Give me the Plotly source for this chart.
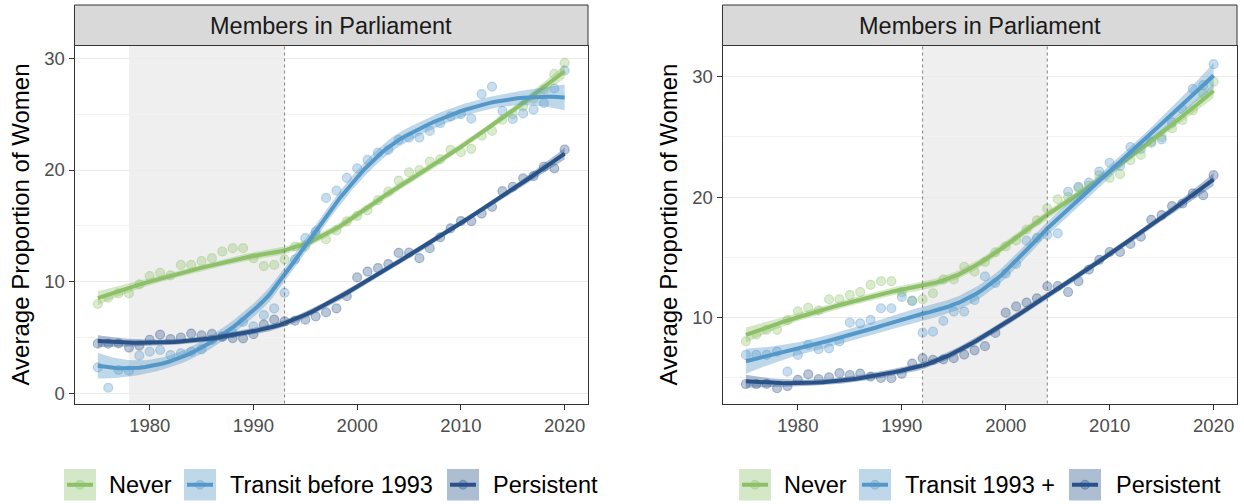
import numpy as np
import plotly.graph_objects as go

# ---------------- data ----------------
years = list(range(1975, 2021))

never = [8.0, 8.56, 8.96, 8.96, 9.76, 10.5, 10.8, 10.57, 11.5, 11.5,
         11.85, 12.1, 12.7, 13.0, 13.0, 12.1, 11.4, 11.5, 12.0, 13.15,
         13.15, 14.2, 13.8, 14.6, 15.4, 15.9, 16.4, 17.3, 18.06, 19.05,
         19.8, 20.0, 20.75, 20.96, 21.8, 21.6, 21.9, 23.07, 23.5, 24.5,
         25.0, 25.7, 26.4, 27.2, 28.6, 29.6]

persistent = [4.45, 4.45, 4.47, 4.1, 4.28, 4.8, 5.25, 4.85, 5.0, 5.35,
              5.2, 5.32, 5.07, 4.95, 4.93, 5.3, 6.15, 6.6, 6.45, 6.5,
              6.6, 6.9, 7.25, 7.6, 8.7, 10.38, 10.9, 11.22, 11.58, 12.58,
              12.6, 12.1, 13.0, 13.97, 14.78, 15.43, 15.43, 16.1, 16.7, 18.1,
              18.5, 19.25, 19.46, 20.3, 20.15, 21.82]

transit_before_1993 = [2.33, 0.5, 2.09, 2.03, 3.37, 3.73, 3.88, 3.43, 3.58, 3.73,
                       3.94, 4.78, 5.07, 5.4, 6.4, 6.0, 7.0, 7.6, 9.0, 12.0,
                       13.9, 14.5, 17.5, 18.15, 19.3, 20.15, 20.9, 21.55, 21.8, 22.7,
                       22.9, 22.9, 23.5, 24.2, 24.8, 25.0, 24.6, 26.8, 27.46, 25.3,
                       24.57, 25.07, 25.4, 26.0, 27.3, 28.9]

transit_1993_plus = [6.87, 6.87, 6.87, 7.15, 5.48, 6.87, 7.7, 7.34, 7.42, 8.0,
                     9.55, 9.5, 9.78, 10.75, 10.75, 11.7, 11.35, 8.72, 8.8, 9.7,
                     10.47, 10.47, 11.44, 13.4, 12.85, 13.63, 14.43, 16.37, 16.6, 16.85,
                     16.98, 20.44, 20.85, 21.2, 22.12, 22.85, 22.6, 24.15, 24.0, 24.6,
                     24.8, 26.2, 27.3, 29.0, 29.3, 31.05]

panel_title = "Members in Parliament"
y_title = "Average Proportion of Women"
x_ticks = [1980, 1990, 2000, 2010, 2020]
left_labels = ["Never", "Transit before 1993", "Persistent"]
right_labels = ["Never", "Transit 1993 +", "Persistent"]
left_shade = (1978, 1993)
left_dashed = [1993]
right_shade = (1992, 2004)
right_dashed = [1992, 2004]

# ---------------- styles ----------------
W, H = 1244, 504
FONT = "Liberation Sans, Arial, Helvetica, sans-serif"
C_NEVER = (141, 193, 104)
C_TRANS = (84, 152, 201)
C_PERS = (40, 82, 136)


def rgba(c, a):
    return f"rgba({c[0]},{c[1]},{c[2]},{a})"


def loess(x, y, xs, span=0.75):
    x = np.asarray(x, float)
    y = np.asarray(y, float)
    n = len(x)
    q = int(np.floor(n * span))

    def hat_row(x0):
        d = np.abs(x - x0)
        h = np.sort(d)[q - 1]
        u = np.clip(d / h, 0, 1)
        w = (1 - u ** 3) ** 3
        X = np.column_stack([np.ones(n), x - x0, (x - x0) ** 2])
        XtW = X.T * w
        A = np.linalg.solve(XtW @ X, XtW)
        return A[0]

    L = np.array([hat_row(xi) for xi in x])
    resid = y - L @ y
    I = np.eye(n)
    M = (I - L).T @ (I - L)
    one_delta = np.trace(M)
    two_delta = np.trace(M @ M)
    sigma = np.sqrt(np.sum(resid ** 2) / one_delta)
    df = one_delta ** 2 / two_delta
    tq = 2.0 + 2.4 / df
    fit, se = [], []
    for x0 in xs:
        l = hat_row(x0)
        fit.append(l @ y)
        se.append(sigma * np.sqrt(np.sum(l ** 2)))
    fit = np.array(fit)
    se = np.array(se)
    return fit, fit - tq * se, fit + tq * se


# ---------------- layout geometry (pixels) ----------------
panel_top, panel_bot = 45.5, 403.5
strip_top = 5
L_x0, L_x1 = 74.5, 588
R_x0, R_x1 = 722.5, 1237


def px(x):
    return x / W


def py(y):
    return 1 - y / H


fig = go.Figure()
xs = np.linspace(1975, 2020, 80)


def add_panel(series, axis_suffix):
    xa = "x" + axis_suffix
    ya = "y" + axis_suffix
    for vals, col in series:
        fig.add_trace(go.Scatter(
            x=years, y=vals, mode="markers", xaxis=xa, yaxis=ya,
            marker=dict(size=9, color=rgba(col, 0.32),
                        line=dict(color=rgba(col, 0.35), width=1.2)),
            showlegend=False, hoverinfo="skip"))
    for vals, col in series:
        fit, lo, hi = loess(years, vals, xs)
        fig.add_trace(go.Scatter(
            x=np.concatenate([xs, xs[::-1]]), y=np.concatenate([hi, lo[::-1]]),
            fill="toself", fillcolor=rgba(col, 0.38), line=dict(width=0),
            mode="lines", xaxis=xa, yaxis=ya, showlegend=False, hoverinfo="skip"))
        fig.add_trace(go.Scatter(
            x=xs, y=fit, mode="lines", line=dict(color=rgba(col, 1), width=4),
            xaxis=xa, yaxis=ya, showlegend=False, hoverinfo="skip"))


add_panel([(never, C_NEVER), (transit_before_1993, C_TRANS), (persistent, C_PERS)], "")
add_panel([(never, C_NEVER), (transit_1993_plus, C_TRANS), (persistent, C_PERS)], "2")

axis_common = dict(
    showline=True, mirror=True, linecolor="#333333", linewidth=1,
    ticks="outside", ticklen=5, tickwidth=1, tickcolor="#333333",
    tickfont=dict(family=FONT, size=18.5, color="#4d4d4d"),
    zeroline=False,
)
title_font = dict(family=FONT, size=24, color="black")

xrange = [1972.75, 2022.25]
fig.update_layout(
    width=W, height=H, margin=dict(l=0, r=0, t=0, b=0),
    paper_bgcolor="white", plot_bgcolor="white",
    font=dict(family=FONT),
    xaxis=dict(domain=[px(L_x0), px(L_x1)], range=xrange, tickvals=x_ticks,
               showgrid=False, anchor="y", **axis_common),
    yaxis=dict(domain=[py(panel_bot), py(panel_top)], range=[-0.91, 31.15],
               tickvals=[0, 10, 20, 30], showgrid=True, gridcolor="#ebebeb", gridwidth=1.2,
               minor=dict(tickvals=[5, 15, 25], showgrid=True, gridcolor="#f2f2f2",
                          gridwidth=0.7, ticks=""),
               anchor="x",
               title=dict(text=y_title, font=title_font, standoff=7),
               **axis_common),
    xaxis2=dict(domain=[px(R_x0), px(R_x1)], range=xrange, tickvals=x_ticks,
                showgrid=False, anchor="y2", **axis_common),
    yaxis2=dict(domain=[py(panel_bot), py(panel_top)], range=[2.83, 32.6],
                tickvals=[10, 20, 30], showgrid=True, gridcolor="#ebebeb", gridwidth=1.2,
                minor=dict(tickvals=[5, 15, 25], showgrid=True, gridcolor="#f2f2f2",
                           gridwidth=0.7, ticks=""),
                anchor="x2",
                title=dict(text=y_title, font=title_font, standoff=7),
                **axis_common),
)

shapes = []
annotations = []


def panel_decor(xref, yref, shade, dashed, x0px, x1px):
    shapes.append(dict(type="rect", xref=xref, yref=yref + " domain",
                       x0=shade[0], x1=shade[1], y0=0, y1=1,
                       fillcolor="#efefef", line=dict(width=0), layer="below"))
    for d in dashed:
        shapes.append(dict(type="line", xref=xref, yref=yref + " domain",
                           x0=d, x1=d, y0=0, y1=1,
                           line=dict(color="#666666", width=0.8, dash="3px,3px"),
                           layer="above"))
    shapes.append(dict(type="rect", xref="paper", yref="paper",
                       x0=px(x0px), x1=px(x1px), y0=py(panel_top), y1=py(strip_top),
                       fillcolor="#d9d9d9", line=dict(color="#333333", width=1)))
    annotations.append(dict(xref="paper", yref="paper",
                            x=px((x0px + x1px) / 2), y=py((panel_top + strip_top) / 2 + 0.5),
                            text=panel_title, showarrow=False,
                            font=dict(family=FONT, size=23.5, color="#1a1a1a"),
                            xanchor="center", yanchor="middle"))


panel_decor("x", "y", left_shade, left_dashed, L_x0, L_x1)
panel_decor("x2", "y2", right_shade, right_dashed, R_x0, R_x1)


def legend(labels, key_x, text_x):
    cols = [C_NEVER, C_TRANS, C_PERS]
    ky0, ky1 = 469, 500.5
    kc = (ky0 + ky1) / 2
    for lab, col, kx, tx in zip(labels, cols, key_x, text_x):
        shapes.append(dict(type="rect", xref="paper", yref="paper",
                           x0=px(kx), x1=px(kx + 32), y0=py(ky1), y1=py(ky0),
                           fillcolor=rgba(col, 0.38), line=dict(width=0)))
        shapes.append(dict(type="line", xref="paper", yref="paper",
                           x0=px(kx + 3), x1=px(kx + 29), y0=py(kc), y1=py(kc),
                           line=dict(color=rgba(col, 1), width=4)))
        shapes.append(dict(type="circle", xref="paper", yref="paper",
                           x0=px(kx + 11.5), x1=px(kx + 20.5), y0=py(kc + 4.5), y1=py(kc - 4.5),
                           fillcolor=rgba(col, 0.32), line=dict(color=rgba(col, 0.35), width=1)))
        annotations.append(dict(xref="paper", yref="paper", x=px(tx), y=py(kc + 0.5),
                                text=lab, showarrow=False, xanchor="left", yanchor="middle",
                                font=dict(family=FONT, size=23.5, color="black")))


legend(left_labels, [64, 184, 447], [107, 228, 491])
legend(right_labels, [739, 859, 1069], [782, 903, 1114])

fig.update_layout(shapes=shapes, annotations=annotations)
fig.write_html("out.html", config={"displayModeBar": False},
               post_script="document.body.style.margin='0px';document.body.style.padding='0px';")
